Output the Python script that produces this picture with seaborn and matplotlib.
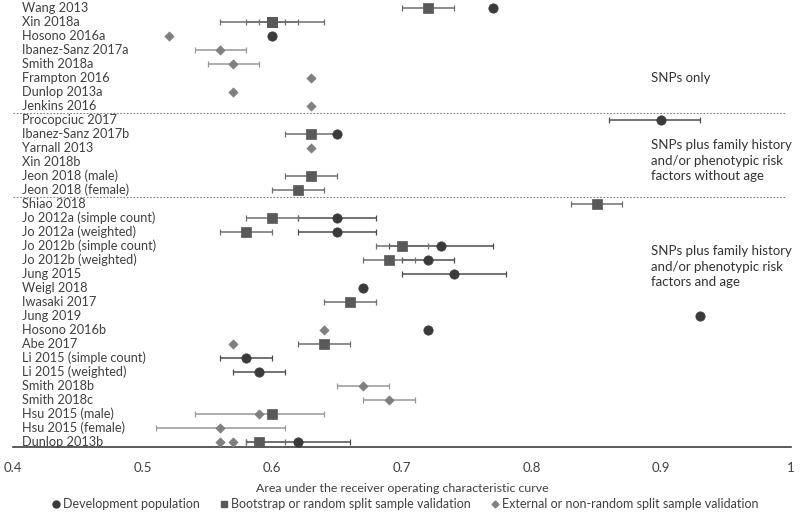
import matplotlib
matplotlib.use("Agg")
import matplotlib.pyplot as plt
from matplotlib.lines import Line2D
import pandas as pd
import seaborn as sns

# Studies, top to bottom
studies = ["Wang 2013", "Xin 2018a", "Hosono 2016a", "Ibanez-Sanz 2017a", "Smith 2018a",
           "Frampton 2016", "Dunlop 2013a", "Jenkins 2016",
           "Procopciuc 2017", "Ibanez-Sanz 2017b", "Yarnall 2013", "Xin 2018b",
           "Jeon 2018 (male)", "Jeon 2018 (female)",
           "Shiao 2018", "Jo 2012a (simple count)", "Jo 2012a (weighted)",
           "Jo 2012b (simple count)", "Jo 2012b (weighted)", "Jung 2015", "Weigl 2018",
           "Iwasaki 2017", "Jung 2019", "Hosono 2016b", "Abe 2017", "Li 2015 (simple count)",
           "Li 2015 (weighted)", "Smith 2018b", "Smith 2018c", "Hsu 2015 (male)",
           "Hsu 2015 (female)", "Dunlop 2013b"]

# Development population (circles)
dev_study = ["Wang 2013", "Hosono 2016a", "Procopciuc 2017", "Ibanez-Sanz 2017b",
             "Jo 2012a (simple count)", "Jo 2012a (weighted)", "Jo 2012b (simple count)",
             "Jo 2012b (weighted)", "Jung 2015", "Weigl 2018", "Jung 2019", "Hosono 2016b",
             "Li 2015 (simple count)", "Li 2015 (weighted)", "Dunlop 2013b"]
dev_auc = [0.77, 0.60, 0.90, 0.65, 0.65, 0.65, 0.73, 0.72, 0.74, 0.67, 0.93, 0.72, 0.58, 0.59, 0.62]
dev_lo = [None, None, 0.86, None, 0.62, 0.62, 0.69, 0.70, 0.70, None, None, None, 0.56, 0.57, 0.58]
dev_hi = [None, None, 0.93, None, 0.68, 0.68, 0.77, 0.74, 0.78, None, None, None, 0.60, 0.61, 0.66]

# Bootstrap or random split sample validation (squares)
boot_study = ["Wang 2013", "Xin 2018a", "Xin 2018a", "Xin 2018a", "Ibanez-Sanz 2017b",
              "Jeon 2018 (male)", "Jeon 2018 (female)", "Shiao 2018", "Jo 2012a (simple count)",
              "Jo 2012a (weighted)", "Jo 2012b (simple count)", "Jo 2012b (weighted)",
              "Iwasaki 2017", "Abe 2017", "Hsu 2015 (male)", "Dunlop 2013b"]
boot_auc = [0.72, 0.60, 0.60, 0.60, 0.63, 0.63, 0.62, 0.85, 0.60, 0.58, 0.70, 0.69, 0.66, 0.64, 0.60, 0.59]
boot_lo = [0.70, 0.56, 0.58, 0.59, 0.61, 0.61, 0.60, 0.83, 0.58, 0.56, 0.68, 0.67, 0.64, 0.62, None, 0.58]
boot_hi = [0.74, 0.64, 0.62, 0.61, 0.65, 0.65, 0.64, 0.87, 0.62, 0.60, 0.72, 0.71, 0.68, 0.66, None, 0.61]

# External or non-random split sample validation (diamonds)
ext_study = ["Hosono 2016a", "Ibanez-Sanz 2017a", "Smith 2018a", "Frampton 2016", "Dunlop 2013a",
             "Jenkins 2016", "Yarnall 2013", "Hosono 2016b", "Abe 2017", "Smith 2018b",
             "Smith 2018c", "Hsu 2015 (male)", "Hsu 2015 (female)", "Dunlop 2013b", "Dunlop 2013b"]
ext_auc = [0.52, 0.56, 0.57, 0.63, 0.57, 0.63, 0.63, 0.64, 0.57, 0.67, 0.69, 0.59, 0.56, 0.56, 0.57]
ext_lo = [None, 0.54, 0.55, None, None, None, None, None, None, 0.65, 0.67, 0.54, 0.51, None, None]
ext_hi = [None, 0.58, 0.59, None, None, None, None, None, None, 0.69, 0.71, 0.64, 0.61, None, None]

groups = ["SNPs only",
          "SNPs plus family history\nand/or phenotypic risk\nfactors without age",
          "SNPs plus family history\nand/or phenotypic risk\nfactors and age"]
group_rows = [5.0, 10.9, 18.5]
separators = [7.5, 13.5]

labels = ["Development population", "Bootstrap or random split sample validation",
          "External or non-random split sample validation"]

frames = []
for lab, s, a, lo, hi in [(labels[0], dev_study, dev_auc, dev_lo, dev_hi),
                          (labels[1], boot_study, boot_auc, boot_lo, boot_hi),
                          (labels[2], ext_study, ext_auc, ext_lo, ext_hi)]:
    frames.append(pd.DataFrame({"study": s, "auc": a, "lo": lo, "hi": hi, "type": lab}))
df = pd.concat(frames, ignore_index=True)
df["row"] = df["study"].map({s: i for i, s in enumerate(studies)})

sns.set_style("white")
plt.rcParams["font.family"] = ["Lato", "DejaVu Sans"]

colors = {labels[0]: "#3a3a3a", labels[1]: "#595959", labels[2]: "#7f7f7f"}
bar_colors = {labels[0]: "#4d4d4d", labels[1]: "#6f6f6f", labels[2]: "#999999"}
markers = {labels[0]: "o", labels[1]: "s", labels[2]: "D"}
sizes = {labels[0]: 45, labels[1]: 45, labels[2]: 22}

fig = plt.figure(figsize=(8, 5.14), dpi=100)
ax = fig.add_axes([13 / 800, 67 / 514, 778 / 800, 447 / 514])

# error bars first
for lab in labels:
    sub = df[(df["type"] == lab) & df["lo"].notna()]
    ax.errorbar(sub["auc"], sub["row"],
                xerr=[sub["auc"] - sub["lo"], sub["hi"] - sub["auc"]],
                fmt="none", ecolor=bar_colors[lab], elinewidth=1.1, capsize=2, capthick=0.9, zorder=2)

for lab in labels:
    sub = df[df["type"] == lab]
    sns.scatterplot(data=sub, x="auc", y="row", marker=markers[lab], color=colors[lab],
                    s=sizes[lab], edgecolor=colors[lab], linewidth=0.5, ax=ax, zorder=3, legend=False)

for i, s in enumerate(studies):
    ax.text(0.407, i, s, ha="left", va="center", fontsize=9.2, color="#404040")

for y in separators:
    ax.plot([0.4, 0.995], [y, y], ls=(0, (1.5, 1.5)), color="#808080", lw=0.8)

for y, g in zip(group_rows, groups):
    ax.text(0.892, y, g, ha="left", va="center", fontsize=9.5, color="#333333", linespacing=1.35)

ax.set_xlim(0.4, 1.0)
ax.set_ylim(31.36, -0.57)
ax.set_yticks([])
ax.set_xticks([0.4, 0.5, 0.6, 0.7, 0.8, 0.9, 1.0])
ax.set_xticklabels(["0.4", "0.5", "0.6", "0.7", "0.8", "0.9", "1"], fontsize=9.5, color="#404040")
ax.tick_params(axis="x", direction="inout", length=5, width=1, color="#404040", pad=8)
for side in ["left", "right", "top"]:
    ax.spines[side].set_visible(False)
ax.spines["bottom"].set_color("#404040")
ax.spines["bottom"].set_linewidth(1.2)
ax.set_xlabel("Area under the receiver operating characteristic curve", fontsize=8.9,
              color="#404040", labelpad=7)
ax.set_ylabel("")

handles = [Line2D([], [], ls="none", marker=markers[l], color=colors[l],
                  markersize=5 if l != labels[2] else 3.5, label=l) for l in labels]
fig.legend(handles=handles, loc="center", bbox_to_anchor=(0.505, 1 - 504 / 514), ncol=3,
           frameon=False, fontsize=9.0, handletextpad=0.1, columnspacing=1.4,
           labelcolor="#404040", handlelength=1.0)

fig.savefig("out.png", dpi=100)
